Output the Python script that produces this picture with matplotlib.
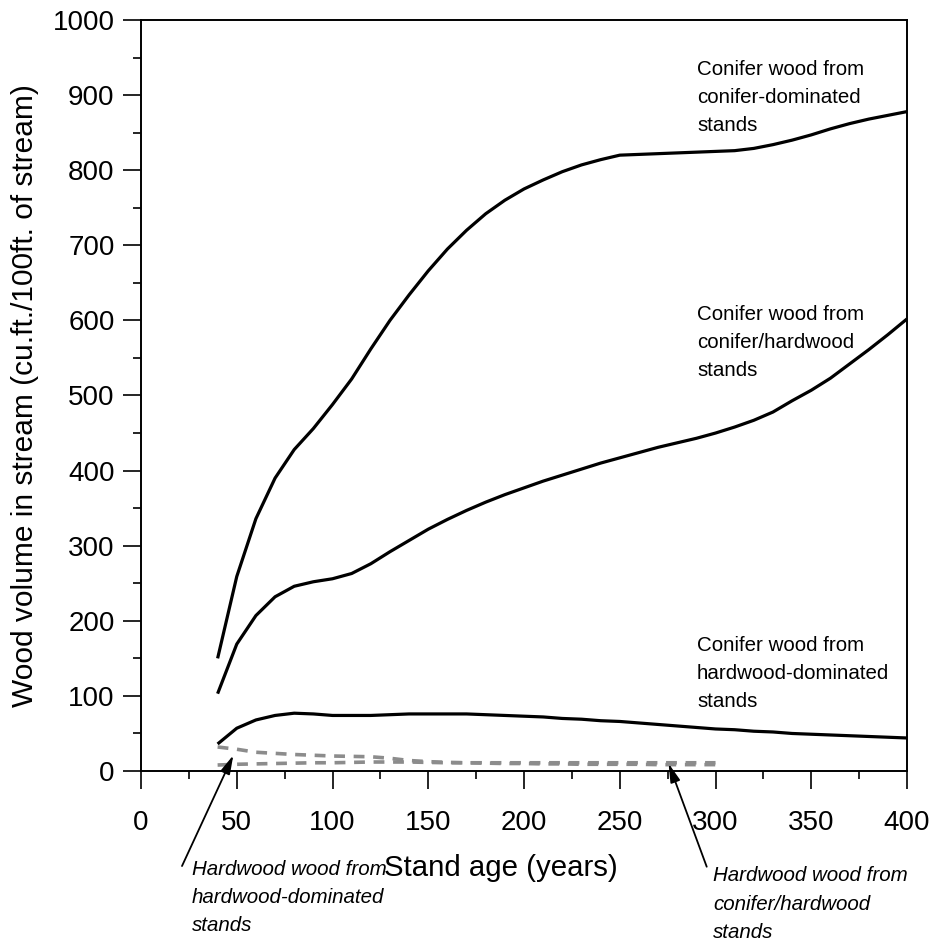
import matplotlib
matplotlib.use("Agg")
import matplotlib.pyplot as plt
from matplotlib.ticker import MultipleLocator

plt.rcParams['font.family'] = ['Liberation Sans', 'DejaVu Sans']

# Stand age (years)
age = list(range(40, 401, 10))
age_hw = list(range(40, 301, 10))

# Conifer wood volume (cu.ft./100 ft. of stream)
conifer_conifer_dom = [150, 259, 336, 390, 428, 456, 488, 522, 562, 600,
                       634, 666, 695, 720, 742, 760, 775, 787, 798, 807,
                       814, 820, 821, 822, 823, 824, 825, 826, 829, 834,
                       840, 847, 855, 862, 868, 873, 878]
conifer_mixed = [103, 169, 207, 232, 246, 252, 256, 263, 276, 292,
                 307, 322, 335, 347, 358, 368, 377, 386, 394, 402,
                 410, 417, 424, 431, 437, 443, 450, 458, 467, 478,
                 493, 507, 523, 542, 561, 581, 602]
conifer_hardwood_dom = [36, 57, 68, 74, 77, 76, 74, 74, 74, 75,
                        76, 76, 76, 76, 75, 74, 73, 72, 70, 69,
                        67, 66, 64, 62, 60, 58, 56, 55, 53, 52,
                        50, 49, 48, 47, 46, 45, 44]

# Hardwood wood volume
hardwood_hardwood_dom = [32, 29, 25, 23.5, 22, 21, 20, 19.5, 19, 17,
                         14, 12.5, 11.5, 11, 10.5, 10, 10, 9.5, 9.5, 9,
                         9, 9, 9, 8.5, 8.5, 8.5, 8.5]
hardwood_mixed = [8, 9, 9.5, 10, 10.5, 11, 11, 11.5, 12, 12,
                  12, 11.5, 11, 11, 11, 11, 11, 11, 11, 11,
                  11, 11, 11, 11, 11, 11, 11]

fig = plt.figure(figsize=(9.32, 9.42), dpi=100)
ax = fig.add_axes([0.1513, 0.1815, 0.8219, 0.7973])

ax.plot(age, conifer_conifer_dom, color='black', lw=2.3, solid_capstyle='butt')
ax.plot(age, conifer_mixed, color='black', lw=2.3, solid_capstyle='butt')
ax.plot(age, conifer_hardwood_dom, color='black', lw=2.3, solid_capstyle='butt')
ax.plot(age_hw, hardwood_hardwood_dom, color='#8c8c8c', lw=2.6, dashes=(3.0, 2.4))
ax.plot(age_hw, hardwood_mixed, color='#8c8c8c', lw=2.6, dashes=(3.0, 2.4))

ax.set_xlim(0, 400)
ax.set_ylim(0, 1000)
ax.xaxis.set_major_locator(MultipleLocator(50))
ax.xaxis.set_minor_locator(MultipleLocator(25))
ax.yaxis.set_major_locator(MultipleLocator(100))
ax.yaxis.set_minor_locator(MultipleLocator(50))
ax.tick_params(which='major', direction='out', length=13, width=1.2,
               labelsize=20, colors='black')
ax.tick_params(which='minor', direction='out', length=6, width=1.2)
ax.tick_params(axis='x', which='major', pad=15)
ax.tick_params(axis='y', which='major', pad=6)
for s in ax.spines.values():
    s.set_linewidth(1.4)

ax.set_xlabel('Stand age (years)', fontsize=21.2)
ax.xaxis.set_label_coords(0.47, -0.11)
ax.set_ylabel('Wood volume in stream (cu.ft./100ft. of stream)', fontsize=21.5, labelpad=10)

label_kw = dict(fontsize=14.8, ha='left', va='top', linespacing=1.62)
ax.text(290.3, 947, 'Conifer wood from\nconifer-dominated\nstands', **label_kw)
ax.text(290.3, 621, 'Conifer wood from\nconifer/hardwood\nstands', **label_kw)
ax.text(290.3, 180, 'Conifer wood from\nhardwood-dominated\nstands', **label_kw)

note_kw = dict(fontsize=14.8, style='italic', ha='left', va='top',
               linespacing=1.62, clip_on=False)
ax.text(26.5, -118, 'Hardwood wood from\nhardwood-dominated\nstands', **note_kw)
ax.text(298.8, -127, 'Hardwood wood from\nconifer/hardwood\nstands', **note_kw)

arrow_kw = dict(arrowstyle='-|>,head_length=0.75,head_width=0.2', color='black',
                lw=1.3, mutation_scale=15, shrinkA=0, shrinkB=0)
ax.annotate('', xy=(48.2, 21), xytext=(21.4, -126.5),
            annotation_clip=False, arrowprops=arrow_kw)
ax.annotate('', xy=(275.5, 10), xytext=(295.4, -127.4),
            annotation_clip=False, arrowprops=arrow_kw)

fig.savefig('out.png', dpi=100)
